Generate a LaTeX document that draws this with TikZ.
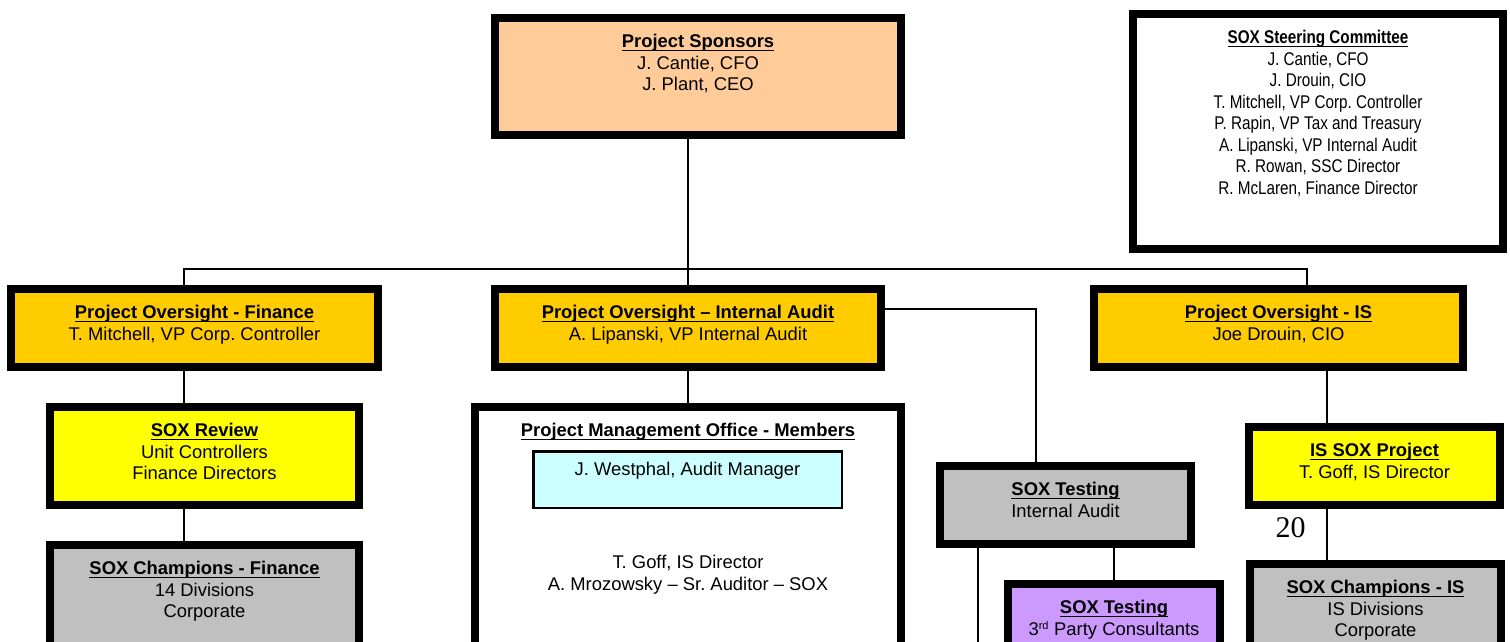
\documentclass[tikz,border=0pt]{standalone}
\usepackage{fontspec}
\setmainfont{Liberation Sans}
\newfontfamily\narrowfont[FakeStretch=0.83]{Liberation Sans}
\newfontfamily\pagefont{Liberation Serif}
\usepackage{xcolor}
\usepackage{tikz}
\usetikzlibrary{calc}
\usetikzlibrary{positioning}

\definecolor{peach}{HTML}{FFCC99}
\definecolor{gold}{HTML}{FFCC00}
\definecolor{lemon}{HTML}{FFFF00}
\definecolor{silver}{HTML}{C0C0C0}
\definecolor{lilac}{HTML}{CC99FF}
\definecolor{icecyan}{HTML}{CCFFFF}

% bold heading with a word-style underline
\newcommand{\uhead}[1]{\setbox0=\hbox{\bfseries #1}\rlap{\rule[-3pt]{\wd0}{1.3pt}}\box0}

\frenchspacing

\begin{document}
\begin{tikzpicture}
  [
    x = 1pt, y = -1pt,
    box/.style = {draw, line width = 8pt, rectangle, inner sep = 0pt},
    sponsorbox/.style = {box, fill = peach},
    steerbox/.style = {box, fill = white},
    overbox/.style = {box, fill = gold},
    reviewbox/.style = {box, fill = lemon},
    champbox/.style = {box, fill = silver},
    thirdbox/.style = {box, fill = lilac},
    pmobox/.style = {box, fill = white},
    memberbox/.style = {draw, line width = 2.5pt, rectangle, fill = icecyan},
    txt/.style = {anchor = north, inner sep = 0pt, align = center,
                  font = \fontsize{18.4}{21.5}\selectfont},
    narrowtxt/.style = {txt, font = \narrowfont\fontsize{18.4}{21.5}\selectfont},
    link/.style = {line width = 1.5pt},
  ]

  \useasboundingbox (0,0) rectangle (1510,641);
  \clip (0,0) rectangle (1510,641);

  % top row
  \node[sponsorbox, minimum width = 406pt, minimum height = 117pt] at (698,76.5) (sponsor) {};
  \node[txt] at ([yshift = -20.3pt]sponsor.north) (sponsor_txt)
    {\uhead{Project Sponsors}\\J. Cantie, CFO\\J. Plant, CEO};

  \node[steerbox, minimum width = 370pt, minimum height = 235pt] at (1318,131.5) (steer) {};
  \node[narrowtxt] at ([yshift = -20.3pt]steer.north) (steer_txt)
    {\uhead{SOX Steering Committee}\\J. Cantie, CFO\\J. Drouin, CIO\\
     T. Mitchell, VP Corp. Controller\\P. Rapin, VP Tax and Treasury\\
     A. Lipanski, VP Internal Audit\\R. Rowan, SSC Director\\R. McLaren, Finance Director};

  % oversight row
  \node[overbox, minimum width = 367pt, minimum height = 78pt] at (194.5,328) (ov_fin) {};
  \node[txt] at ([yshift = -20.3pt]ov_fin.north) (ov_fin_txt)
    {\uhead{Project Oversight - Finance}\\T. Mitchell, VP Corp. Controller};

  \node[overbox, minimum width = 386pt, minimum height = 78pt] at (688,328) (ov_ia) {};
  \node[txt] at ([yshift = -20.3pt]ov_ia.north) (ov_ia_txt)
    {\uhead{Project Oversight -- Internal Audit}\\A. Lipanski, VP Internal Audit};

  \node[overbox, minimum width = 369pt, minimum height = 78pt] at (1278.5,328) (ov_is) {};
  \node[txt] at ([yshift = -20.3pt]ov_is.north) (ov_is_txt)
    {\uhead{Project Oversight - IS}\\Joe Drouin, CIO};

  % finance branch
  \node[reviewbox, minimum width = 309pt, minimum height = 98pt] at (204.5,456) (review) {};
  \node[txt] at ([yshift = -20.3pt]review.north) (review_txt)
    {\uhead{SOX Review}\\Unit Controllers\\Finance Directors};

  \node[champbox, minimum width = 309pt, minimum height = 120pt] at (204.5,605) (champ_fin) {};
  \node[txt] at ([yshift = -20.3pt]champ_fin.north) (champ_fin_txt)
    {\uhead{SOX Champions - Finance}\\14 Divisions\\Corporate};

  % internal audit branch
  \node[pmobox, minimum width = 426pt, minimum height = 270pt] at (688,542) (pmo) {};
  \node[txt] at ([yshift = -20.3pt]pmo.north) (pmo_txt)
    {\uhead{Project Management Office - Members}};
  \node[memberbox, minimum width = 308.5pt, minimum height = 56.5pt] at (687.5,479.5) (westphal) {};
  \node[txt] at ([yshift = -12pt]westphal.north) (westphal_txt)
    {J. Westphal, Audit Manager};
  \node[txt] at ([yshift = -152pt]pmo.north) (members_txt)
    {T. Goff, IS Director\\A. Mrozowsky -- Sr. Auditor -- SOX};

  \node[champbox, minimum width = 251pt, minimum height = 78pt] at (1065.5,505) (test_ia) {};
  \node[txt] at ([yshift = -20.3pt]test_ia.north) (test_ia_txt)
    {\uhead{SOX Testing}\\Internal Audit};

  \node[thirdbox, minimum width = 212pt, minimum height = 120pt] at (1114,644) (test_3p) {};
  \node[txt] at ([yshift = -20.3pt]test_3p.north) (test_3p_txt)
    {\uhead{SOX Testing}\\3\textsuperscript{\fontsize{11}{11}\selectfont rd} Party Consultants};

  % IS branch
  \node[reviewbox, minimum width = 251pt, minimum height = 78pt] at (1374.5,466) (is_sox) {};
  \node[txt] at ([yshift = -20.3pt]is_sox.north) (is_sox_txt)
    {\uhead{IS SOX Project}\\T. Goff, IS Director};

  \node[champbox, minimum width = 251pt, minimum height = 120pt] at (1375.5,624) (champ_is) {};
  \node[txt] at ([yshift = -20.3pt]champ_is.north) (champ_is_txt)
    {\uhead{SOX Champions - IS}\\IS Divisions\\Corporate};

  \node[font = \pagefont\fontsize{30}{30}\selectfont, inner sep = 0pt] at (1290.5,528) (page_num) {20};

  % connectors
  \coordinate (bus_l) at (184,269);
  \coordinate (bus_r) at (1307,269);
  \coordinate (ia_turn) at (1036,309);
  \coordinate (is_spine) at (1327,0);
  \coordinate (test_out) at (978,660);

  \draw[link] (ov_ia.north |- sponsor.south) -- (ov_ia.north);
  \draw[link] (ov_fin.north -| bus_l) -- (bus_l) -- (bus_r) -- (ov_is.north -| bus_r);
  \draw[link] (ov_fin.south -| bus_l) -- (review.north -| bus_l);
  \draw[link] (review.south -| bus_l) -- (champ_fin.north -| bus_l);
  \draw[link] (ov_ia.south) -- (pmo.north);
  \draw[link] (ov_ia.east |- ia_turn) -- (ia_turn) -- (test_ia.north -| ia_turn);
  \draw[link] (test_ia.south -| test_out) -- (test_out);
  \draw[link] (test_3p.north |- test_ia.south) -- (test_3p.north);
  \draw[link] (ov_is.south -| is_spine) -- (is_sox.north -| is_spine);
  \draw[link] (is_sox.south -| is_spine) -- (champ_is.north -| is_spine);

\end{tikzpicture}
\end{document}
